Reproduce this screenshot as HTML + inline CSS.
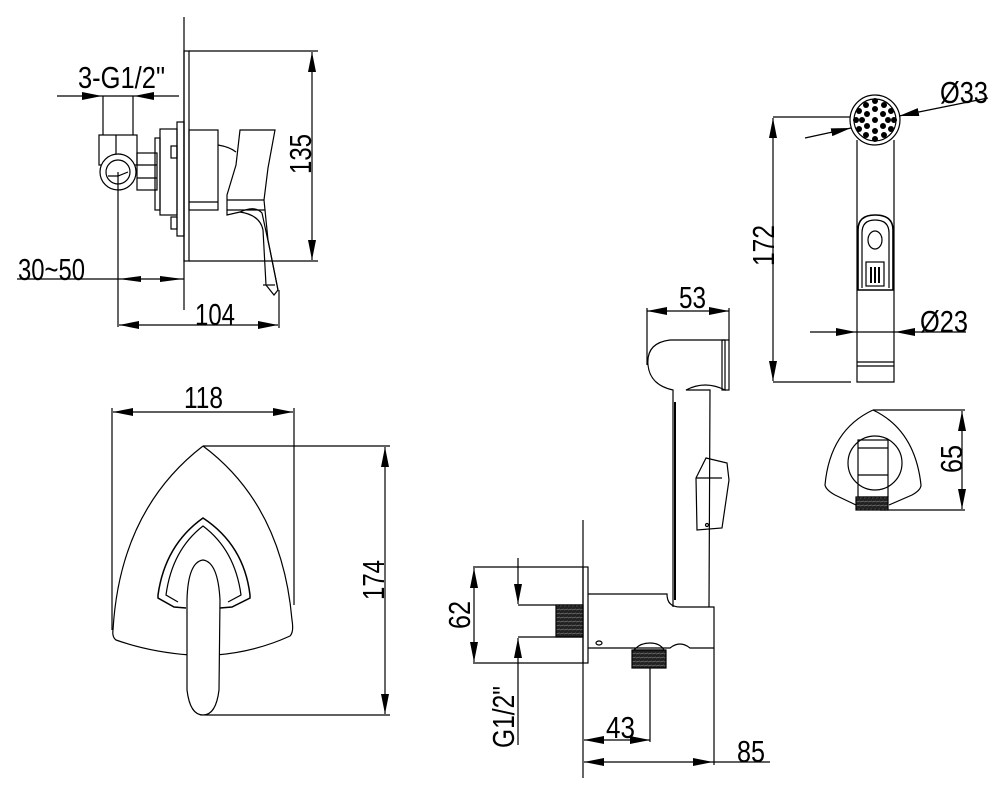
<!DOCTYPE html>
<html><head><meta charset="utf-8"><style>
html,body{margin:0;padding:0;background:#fff;}
svg{display:block;}
text{font-family:"Liberation Sans Narrow","Liberation Sans",sans-serif;font-size:31px;fill:#000;}
</style></head><body>
<svg width="1004" height="796" viewBox="0 0 1004 796" xmlns="http://www.w3.org/2000/svg">
<defs>
<marker id="a" viewBox="0 0 20 8" refX="20" refY="4" markerWidth="20" markerHeight="8" markerUnits="userSpaceOnUse" orient="auto-start-reverse"><path d="M0,0 L20,4 L0,8 Z" fill="#000"/></marker>
<pattern id="th" width="4" height="4" patternUnits="userSpaceOnUse"><rect width="4" height="4" fill="#222"/><path d="M0,2 L4,1" stroke="#777" stroke-width="0.8"/></pattern>
</defs>
<g fill="none" stroke="#000" stroke-width="1.2">
<!-- ===== VIEW 1: side view ===== -->
<line x1="184" y1="17" x2="184" y2="310"/>
<rect x="184" y="51" width="5" height="210"/>
<line x1="189" y1="51" x2="318" y2="51"/>
<line x1="189" y1="261" x2="318" y2="261"/>
<line x1="312" y1="52" x2="312" y2="260" marker-start="url(#a)" marker-end="url(#a)"/>
<line x1="57" y1="96" x2="102" y2="96" marker-end="url(#a)"/>
<line x1="179" y1="96" x2="134" y2="96" marker-end="url(#a)"/>
<line x1="102" y1="96" x2="134" y2="96"/>
<line x1="103" y1="96" x2="103" y2="135"/>
<line x1="133" y1="96" x2="133" y2="135"/>
<rect x="99" y="135" width="38" height="30"/>
<line x1="116" y1="135" x2="116" y2="160"/>
<circle cx="118" cy="172" r="18" fill="#fff"/>
<circle cx="118" cy="172" r="12"/>
<polyline points="108,176 118,176 128,172"/>
<rect x="137" y="153" width="20" height="37"/>
<line x1="137" y1="165" x2="157" y2="165"/>
<line x1="137" y1="178" x2="157" y2="178"/>
<rect x="155" y="138" width="5" height="72"/>
<rect x="160" y="129" width="17" height="86"/>
<rect x="177" y="122" width="7" height="114"/>
<rect x="171" y="146" width="6" height="12"/>
<rect x="171" y="217" width="6" height="12"/>
<rect x="189" y="130" width="29" height="80"/>
<line x1="189" y1="202" x2="218" y2="202"/>
<path d="M218,145 Q230,147 236,152"/>
<path d="M240,130 L275,130 L268,168 L264,200 L265,210 L227,210 L227,195 L236,165 Z"/>
<line x1="227" y1="200" x2="264" y2="200"/>
<path d="M227,210 L227,215 L240,212 Q255,205 262,213 L270,250 L278,290 L274,295 L266,285 L263,230 Q260,215 240,212"/>
<path d="M265,210 L268,240 L278,290"/>
<line x1="263" y1="285" x2="275" y2="285"/>
<line x1="17" y1="279" x2="184" y2="279"/>
<line x1="118" y1="172" x2="118" y2="327"/>
<path d="M141,276 L119,279 L141,282 Z" fill="#000" stroke="none"/>
<path d="M160,276 L183,279 L160,282 Z" fill="#000" stroke="none"/>
<line x1="119" y1="325" x2="278" y2="325" marker-start="url(#a)" marker-end="url(#a)"/>
<line x1="279" y1="290" x2="279" y2="328"/>

<!-- ===== VIEW 2: front ===== -->
<line x1="113" y1="412" x2="293" y2="412" marker-start="url(#a)" marker-end="url(#a)"/>
<line x1="112" y1="408" x2="112" y2="630"/>
<line x1="294" y1="408" x2="294" y2="605"/>
<line x1="203" y1="446" x2="390" y2="446"/>
<line x1="205" y1="715" x2="390" y2="715"/>
<line x1="385" y1="447" x2="385" y2="714" marker-start="url(#a)" marker-end="url(#a)"/>
<path d="M203,446 Q120,510 113,630 Q112,637 116,640 Q150,652 190,655 M216,655 Q255,652 290,636 Q294,632 292,620 Q282,505 203,446"/>
<path d="M186,608 L174,607 L158,598 L158,595 Q165,545 203,518 Q244,545 250,595 L250,598 L232,607 L220,608" stroke-width="1.5"/>
<path d="M178,602 L166,595 Q172,550 203,526 Q235,550 241,595 L228,602"/>
<path d="M203,560 Q188,562 187,600 L187,690 Q190,715 203,715 Q216,715 219,690 L220,600 Q218,562 203,560 Z" fill="#fff"/>

<!-- ===== VIEW 3 ===== -->
<line x1="583" y1="520" x2="583" y2="778"/>
<rect x="583" y="567" width="5" height="96"/>
<line x1="473" y1="567" x2="583" y2="567"/>
<line x1="473" y1="663" x2="583" y2="663"/>
<line x1="474" y1="568" x2="474" y2="662" marker-start="url(#a)" marker-end="url(#a)"/>
<line x1="518" y1="558" x2="518" y2="604" marker-end="url(#a)"/>
<line x1="518" y1="745" x2="518" y2="638" marker-end="url(#a)"/>
<line x1="518" y1="605" x2="583" y2="605"/>
<line x1="518" y1="637" x2="583" y2="637"/>
<rect x="556" y="605" width="27" height="32" fill="url(#th)"/>
<path d="M588,594 L667,594 Q667,607 680,607 L714,607 L714,648 L690,648 Q680,640 670,648 L588,648"/>
<ellipse cx="599" cy="643" rx="3" ry="2"/>
<path d="M673,607 L673,390 Q650,385 648,365 Q646,343 670,340 L725,340 L725,390 Q705,380 686,390 L710,390 L709,607"/>
<line x1="675" y1="402" x2="675" y2="600" stroke-width="2"/>
<rect x="722" y="340" width="7" height="50"/>
<path d="M696,478 L706,458 L727,463 L729,480 L722,528 L697,530 Z"/>
<line x1="696" y1="478" x2="722" y2="478"/>
<circle cx="707" cy="525" r="1.5"/>
<line x1="647" y1="311" x2="729" y2="311" marker-start="url(#a)" marker-end="url(#a)"/>
<line x1="647" y1="308" x2="647" y2="365"/>
<line x1="729" y1="308" x2="729" y2="340"/>
<path d="M634,650 Q640,643 650,643 Q660,643 664,650 Z"/>
<rect x="632" y="650" width="34" height="18" fill="url(#th)"/>
<line x1="650" y1="668" x2="650" y2="742"/>
<line x1="584" y1="740" x2="650" y2="740" marker-start="url(#a)" marker-end="url(#a)"/>
<line x1="714" y1="648" x2="714" y2="765"/>
<line x1="584" y1="762" x2="713" y2="762" marker-start="url(#a)" marker-end="url(#a)"/>
<line x1="713" y1="762" x2="770" y2="762"/>

<!-- ===== VIEW 4 ===== -->
<line x1="773" y1="117" x2="855" y2="117"/>
<line x1="773" y1="382" x2="851" y2="382"/>
<line x1="773" y1="118" x2="773" y2="381" marker-start="url(#a)" marker-end="url(#a)"/>
<path d="M857,140 L857,382 L894,382 L894,140"/>
<line x1="857" y1="362" x2="894" y2="362"/>
<line x1="857" y1="366" x2="894" y2="366"/>
<circle cx="875" cy="120" r="25" fill="#fff"/>
<circle cx="875" cy="120" r="21"/>
<path d="M858,290 L858,230 Q858,215 875,215 Q893,215 893,230 L893,290 Z" stroke-width="1.6"/>
<path d="M862,288 L862,233 Q862,220 875,220 Q889,220 889,233 L889,288"/>
<ellipse cx="875" cy="240" rx="7" ry="9"/>
<rect x="866" y="262" width="18" height="24"/>
<line x1="871" y1="267" x2="871" y2="283" stroke-width="2"/>
<line x1="875" y1="267" x2="875" y2="283" stroke-width="2"/>
<line x1="879" y1="267" x2="879" y2="283" stroke-width="2"/>
<line x1="810" y1="332" x2="856" y2="332" marker-end="url(#a)"/>
<line x1="966" y1="332" x2="895" y2="332" marker-end="url(#a)"/>
<line x1="856" y1="332" x2="895" y2="332"/>
<line x1="805" y1="138" x2="851" y2="128" marker-end="url(#a)"/>
<line x1="988" y1="98" x2="899" y2="116" marker-end="url(#a)"/>
<line x1="873" y1="410" x2="965" y2="410"/>
<line x1="880" y1="510" x2="965" y2="510"/>
<line x1="962" y1="411" x2="962" y2="509" marker-start="url(#a)" marker-end="url(#a)"/>
<path d="M873,410 Q830,430 825,485 Q826,490 835,495 L856,505 M889,505 L912,495 Q921,490 921,485 Q915,430 873,410"/>
<circle cx="875" cy="463" r="27"/>
<rect x="858" y="440" width="30" height="57"/>
<line x1="858" y1="448" x2="888" y2="448"/>
<line x1="858" y1="475" x2="888" y2="475"/>
<rect x="856" y="497" width="32" height="13" fill="url(#th)"/>
</g>
<g fill="#000">
<circle cx="875" cy="120" r="3"/><circle cx="867" cy="114" r="3"/><circle cx="883" cy="114" r="3"/>
<circle cx="867" cy="126" r="3"/><circle cx="883" cy="126" r="3"/><circle cx="875" cy="109" r="3"/>
<circle cx="875" cy="131" r="3"/><circle cx="862" cy="120" r="3"/><circle cx="888" cy="120" r="3"/>
<circle cx="866" cy="105" r="3"/><circle cx="884" cy="105" r="3"/><circle cx="859" cy="111" r="3"/>
<circle cx="891" cy="111" r="3"/><circle cx="859" cy="129" r="3"/><circle cx="891" cy="129" r="3"/>
<circle cx="866" cy="135" r="3"/><circle cx="884" cy="135" r="3"/><circle cx="875" cy="101" r="3"/>
<circle cx="875" cy="139" r="3"/><circle cx="856" cy="120" r="3"/><circle cx="894" cy="120" r="3"/>
</g>
<text x="78" y="88" textLength="87" lengthAdjust="spacingAndGlyphs">3-G1/2"</text>
<text x="18" y="280" textLength="67" lengthAdjust="spacingAndGlyphs">30~50</text>
<text x="195" y="325" textLength="40" lengthAdjust="spacingAndGlyphs">104</text>
<text transform="translate(311,174) rotate(-90)" textLength="40" lengthAdjust="spacingAndGlyphs">135</text>
<text x="184" y="408" textLength="39" lengthAdjust="spacingAndGlyphs">118</text>
<text transform="translate(384,600) rotate(-90)" textLength="40" lengthAdjust="spacingAndGlyphs">174</text>
<text x="679" y="308" textLength="27" lengthAdjust="spacingAndGlyphs">53</text>
<text transform="translate(470,629) rotate(-90)" textLength="28" lengthAdjust="spacingAndGlyphs">62</text>
<text transform="translate(514,748) rotate(-90)" textLength="62" lengthAdjust="spacingAndGlyphs">G1/2"</text>
<text x="606" y="738" textLength="29" lengthAdjust="spacingAndGlyphs">43</text>
<text x="737" y="762" textLength="28" lengthAdjust="spacingAndGlyphs">85</text>
<text x="940" y="103" textLength="48" lengthAdjust="spacingAndGlyphs">Ø33</text>
<text x="920" y="332" textLength="48" lengthAdjust="spacingAndGlyphs">Ø23</text>
<text transform="translate(774,266) rotate(-90)" textLength="41" lengthAdjust="spacingAndGlyphs">172</text>
<text transform="translate(962,473) rotate(-90)" textLength="28" lengthAdjust="spacingAndGlyphs">65</text>
</svg>
</body></html>
